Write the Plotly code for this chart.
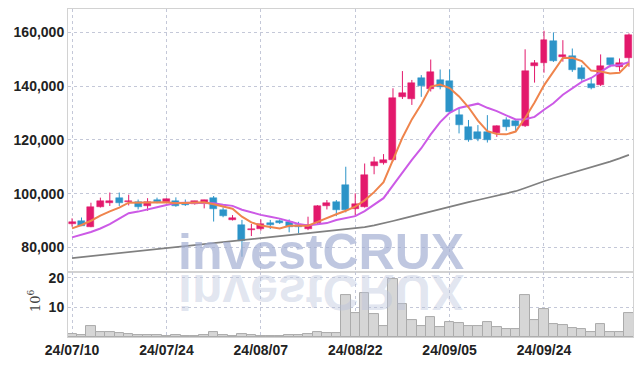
import plotly.graph_objects as go

dates = [
    "2024-07-10", "2024-07-11", "2024-07-12", "2024-07-15", "2024-07-16", "2024-07-17", "2024-07-18", "2024-07-19", "2024-07-22", "2024-07-23",
    "2024-07-24", "2024-07-25", "2024-07-26", "2024-07-29", "2024-07-30", "2024-07-31", "2024-08-01", "2024-08-02", "2024-08-05", "2024-08-06",
    "2024-08-07", "2024-08-08", "2024-08-09", "2024-08-12", "2024-08-13", "2024-08-14", "2024-08-16", "2024-08-19", "2024-08-20", "2024-08-21",
    "2024-08-22", "2024-08-23", "2024-08-26", "2024-08-27", "2024-08-28", "2024-08-29", "2024-08-30", "2024-09-02", "2024-09-03", "2024-09-04",
    "2024-09-05", "2024-09-06", "2024-09-09", "2024-09-10", "2024-09-11", "2024-09-12", "2024-09-13", "2024-09-19", "2024-09-20", "2024-09-23",
    "2024-09-24", "2024-09-25", "2024-09-26", "2024-09-27", "2024-09-30", "2024-10-02", "2024-10-04", "2024-10-07", "2024-10-08", "2024-10-10",
]
opens = [
    88550, 89900, 87700, 95000, 96400, 98200, 96900, 96700, 95500, 97600,
    97000, 97100, 96000, 96100, 96600, 98500, 93900, 90300, 88300, 86300,
    86700, 89200, 89900, 89400, 88300, 87000, 88900, 95500, 97000, 103200,
    94300, 95100, 110400, 111300, 112500, 136000, 135100, 143200, 138800, 142200,
    142000, 129200, 124900, 123000, 123000, 122400, 127400, 127100, 125100, 147600,
    148500, 156800, 150800, 151200, 146600, 140800, 140400, 150300, 147200, 150300,
]
highs = [
    90800, 91100, 96600, 98500, 100400, 100400, 99600, 97800, 98300, 98500,
    98200, 98600, 97800, 97300, 97700, 99100, 94900, 92000, 90200, 88700,
    90400, 90200, 90400, 90400, 89500, 91400, 95700, 97600, 97600, 110000,
    100100, 111200, 113700, 114700, 139200, 145600, 142300, 144100, 149900, 146200,
    146200, 131700, 127400, 125500, 129200, 125400, 128400, 127300, 153700, 149700,
    160600, 160000, 157100, 154000, 147800, 143200, 151800, 150400, 150300, 159600,
]
lows = [
    87700, 87900, 87500, 94800, 95400, 95400, 95600, 94100, 93600, 96400,
    96600, 95100, 95400, 95900, 94500, 89600, 91200, 90000, 76500, 84200,
    86200, 86800, 88700, 85600, 85200, 86400, 88600, 94100, 91600, 93000,
    91700, 94800, 107200, 110800, 112000, 135200, 133000, 136000, 138000, 138800,
    129800, 122400, 119300, 119500, 119000, 121100, 123400, 123000, 124800, 141300,
    145000, 149000, 149100, 145300, 142000, 138800, 140000, 147000, 145600, 147200,
]
closes = [
    89550, 88050, 94900, 97200, 97100, 96600, 97300, 95100, 96700, 96700,
    98000, 95500, 95600, 97100, 97600, 94300, 91700, 91100, 82300, 86900,
    88700, 88300, 88900, 87400, 87400, 88300, 95400, 96600, 93900, 93900,
    96100, 106900, 111900, 112500, 135400, 137300, 141000, 140100, 145200, 139500,
    130500, 125500, 119900, 120300, 120000, 125100, 124900, 125100, 145600, 148700,
    157100, 149400, 151500, 146000, 142600, 139400, 147500, 147800, 148700, 159000,
]
volume_m = [
    1.1, 0.5, 3.6, 1.75, 1.75, 1.3, 1.0, 0.65, 0.65, 0.6,
    0.3, 0.6, 0.3, 0.3, 0.7, 1.6, 0.6, 0.3, 1.1, 0.7,
    0.4, 0.3, 0.3, 0.6, 0.6, 0.95, 1.6, 1.3, 1.3, 14.0,
    8.2, 14.8, 7.6, 3.6, 19.5, 11.2, 5.7, 3.7, 6.6, 3.3,
    5.0, 4.6, 3.6, 3.6, 5.2, 3.3, 2.6, 2.6, 14.2, 5.6,
    9.3, 4.3, 3.9, 3.0, 2.6, 1.7, 4.3, 1.7, 1.7, 8.2,
]
ma5 = [
    87060, 88300, 89900, 91800, 93360, 94770, 96620, 96660, 96560, 96480,
    96760, 96400, 96500, 96580, 96760, 96020, 95260, 94360, 91400, 89260,
    88140, 87460, 87020, 88040, 88140, 88060, 89480, 91020, 92320, 93620,
    95180, 97480, 100540, 104260, 112560, 120800, 127620, 133260, 139800, 140620,
    139260, 136160, 132120, 127140, 123240, 122160, 122040, 123080, 128140, 133880,
    140280, 145180, 150460, 150540, 149320, 145780, 145400, 144660, 145000, 148480,
]
ma10 = [
    83700, 84600, 85700, 87000, 88600, 90700, 92700, 93300, 94000, 94920,
    95765, 96510, 96580, 96570, 96620, 96390, 95830, 95430, 93990, 93010,
    92080, 91360, 90690, 89720, 88700, 88100, 88470, 89020, 90180, 90880,
    91620, 93480, 95780, 98290, 103090, 107990, 112550, 116900, 122030, 126590,
    130030, 131890, 132690, 133470, 131930, 130710, 129100, 127600, 127640, 128560,
    131220, 133610, 136770, 139340, 141600, 143030, 145290, 147560, 147870, 148900,
]
ma60 = [
    76000, 76380, 76770, 77150, 77540, 77920, 78300, 78690, 79070, 79460,
    79840, 80220, 80610, 80990, 81380, 81760, 82140, 82530, 82910, 83300,
    83640, 83970, 84310, 84650, 84980, 85320, 85650, 85990, 86330, 86660,
    87000, 87500, 88150, 88900, 89800, 90700, 91600, 92500, 93400, 94300,
    95200, 96000, 96800, 97600, 98400, 99200, 100000, 100900, 102100, 103400,
    104600, 105700, 106700, 107700, 108700, 109700, 110800, 111900, 113100, 114400,
]
tick_dates = ["2024-07-10", "2024-07-24", "2024-08-07", "2024-08-22", "2024-09-05", "2024-09-24"]
tick_labels = ["24/07/10", "24/07/24", "24/08/07", "24/08/22", "24/09/05", "24/09/24"]
price_ticks = [80000, 100000, 120000, 140000, 160000]
volume_ticks = [10, 20]

UP = "#e3196c"
DOWN = "#2c94c8"

fig = go.Figure()

# candle bodies and wicks
for is_up, color in ((True, UP), (False, DOWN)):
    bx, bbase, bh, wx, wy = [], [], [], [], []
    for d, o, h, l, c in zip(dates, opens, highs, lows, closes):
        if (c >= o) != is_up:
            continue
        bx.append(d)
        bbase.append(min(o, c))
        bh.append(max(abs(c - o), 250))
        wx += [d, d, None]
        wy += [l, h, None]
    fig.add_trace(go.Scatter(x=wx, y=wy, mode="lines", line=dict(color=color, width=1),
                             xaxis="x", yaxis="y", hoverinfo="skip", showlegend=False))
    fig.add_trace(go.Bar(x=bx, y=bh, base=bbase, width=0.74, marker=dict(color=color, line=dict(color=color, width=0.5)),
                         xaxis="x", yaxis="y", showlegend=False))

fig.add_trace(go.Scatter(x=dates, y=ma60, mode="lines", line=dict(color="#808080", width=1.7), xaxis="x", yaxis="y", showlegend=False))
fig.add_trace(go.Scatter(x=dates, y=ma10, mode="lines", line=dict(color="#cc5ae6", width=2), xaxis="x", yaxis="y", showlegend=False))
fig.add_trace(go.Scatter(x=dates, y=ma5, mode="lines", line=dict(color="#ef844c", width=2), xaxis="x", yaxis="y", showlegend=False))

fig.add_trace(go.Bar(x=dates, y=volume_m, width=1.0, marker=dict(color="#d6d6d6", line=dict(color="#ababab", width=1)),
                     xaxis="x2", yaxis="y2", showlegend=False))

tickfont = dict(family="Liberation Sans Narrow, Arial Narrow, Liberation Sans, sans-serif", size=14, color="#222222", weight="bold")
grid = dict(showgrid=True, gridcolor="#c4c8d8", griddash="dot", gridwidth=1, automargin=False,
            showline=True, linecolor="#d2d2d2", linewidth=1, mirror=True, zeroline=False)

fig.update_layout(
    width=642, height=366,
    margin=dict(l=68, r=9, t=9, b=29),
    paper_bgcolor="white", plot_bgcolor="white",
    bargap=0, barmode="overlay",
    showlegend=False,
    xaxis=dict(type="category", categoryorder="array", categoryarray=dates, range=[-0.43, 59.43], anchor="y",
               showticklabels=False, tickvals=tick_dates, ticktext=tick_labels, ticks="", **grid),
    xaxis2=dict(type="category", categoryorder="array", categoryarray=dates, range=[-0.43, 59.43], anchor="y2",
                matches="x", tickvals=tick_dates, ticktext=tick_labels, ticks="", tickangle=0, tickfont=tickfont, **grid),
    yaxis=dict(domain=[0.198, 1], range=[70800, 168700], tickvals=price_ticks, tickformat=",d",
               ticks="", tickfont=tickfont, **grid),
    yaxis2=dict(domain=[0, 0.198], range=[0, 21.9], tickvals=volume_ticks, ticks="", tickfont=tickfont, **grid),
)

fig.add_annotation(text="10<sup>6</sup>", xref="paper", yref="paper", x=-0.06, y=0.11, xanchor="center", yanchor="middle",
                   textangle=-90, showarrow=False, font=dict(family="DejaVu Serif, serif", size=13, color="#444444"))

wm_font = dict(family="Liberation Sans, Arial, sans-serif", size=50, color="rgba(160,173,210,0.68)", weight="bold")
fig.add_annotation(text="investCRUX", xref="paper", yref="paper", x=0.447, y=0.168, xanchor="center", yanchor="bottom",
                   showarrow=False, font=wm_font)
fig.add_annotation(text="investCRUX", xref="paper", yref="paper", x=0.447, y=0.228, xanchor="center", yanchor="top",
                   showarrow=False, font=dict(family="Liberation Sans, Arial, sans-serif", size=50,
                                              color="rgba(185,194,220,0.42)", weight="bold"))

post = """
var st=document.createElement('style');
st.textContent='.annotation[data-index="2"] .annotation-text{transform:scaleY(-1);transform-box:fill-box;transform-origin:50% 50%;}';
document.head.appendChild(st);
"""
fig.write_html("out.html", post_script=post)
